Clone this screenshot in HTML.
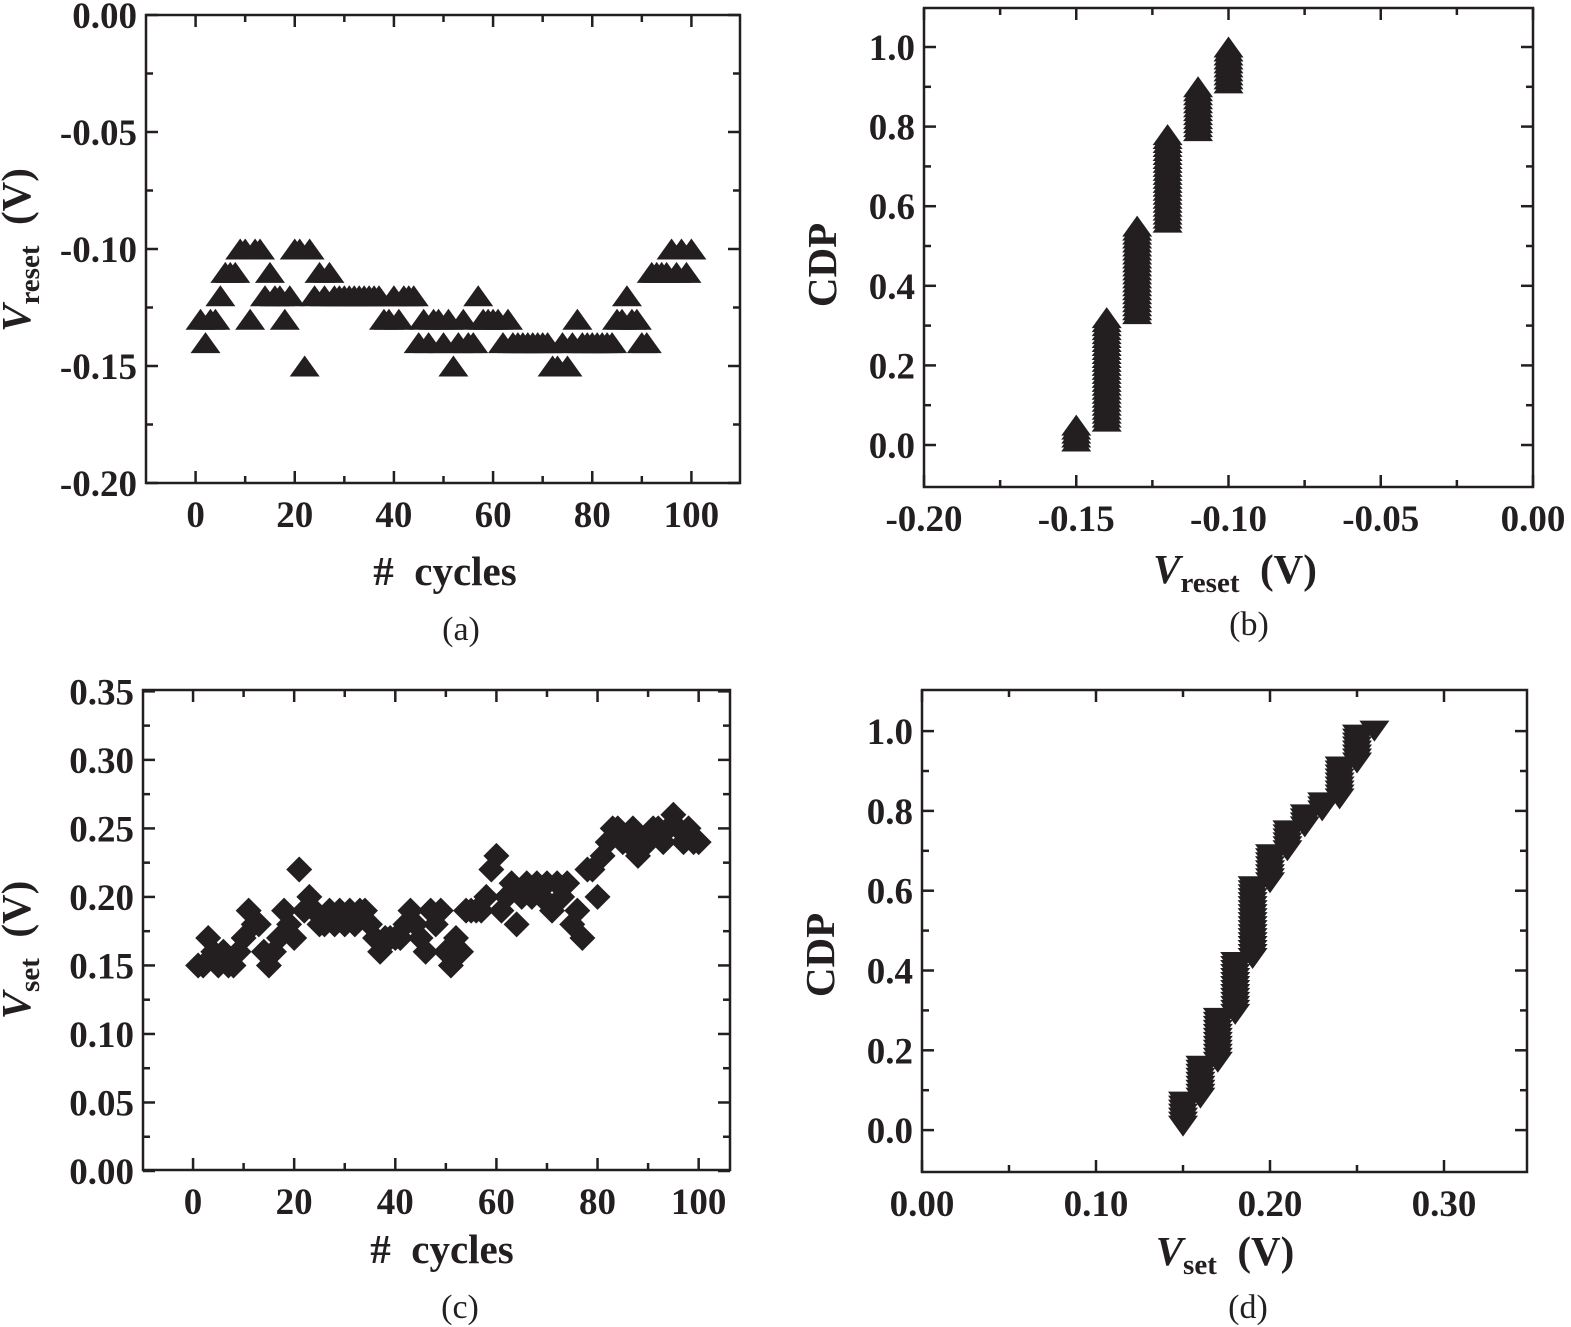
<!DOCTYPE html>
<html><head><meta charset="utf-8"><style>
body{margin:0;background:#fff}
svg{display:block}
text{font-family:"Liberation Serif",serif;fill:#231f20}
.tk{font-size:37px;font-weight:bold}
.ttl{font-size:41px;font-weight:bold}
.cap{font-size:34px}
</style></head><body>
<svg id="s" width="1571" height="1327" viewBox="0 0 1571 1327" xmlns="http://www.w3.org/2000/svg"></svg>
<script>
const cyclesA=[...Array(100)].map((_,i)=>i+1);
const vresetA=[-.13,-.14,-.13,-.13,-.12,-.11,-.11,-.11,-.10,-.10,
-.13,-.10,-.10,-.12,-.11,-.12,-.12,-.13,-.12,-.10,
-.10,-.15,-.10,-.12,-.11,-.12,-.11,-.12,-.12,-.12,
-.12,-.12,-.12,-.12,-.12,-.12,-.12,-.13,-.13,-.12,
-.13,-.12,-.12,-.12,-.14,-.13,-.14,-.13,-.13,-.14,
-.13,-.15,-.14,-.13,-.14,-.14,-.12,-.13,-.13,-.13,
-.13,-.14,-.13,-.14,-.14,-.14,-.14,-.14,-.14,-.14,
-.14,-.15,-.15,-.14,-.15,-.14,-.13,-.14,-.14,-.14,
-.14,-.14,-.14,-.14,-.13,-.13,-.12,-.13,-.13,-.14,
-.14,-.11,-.11,-.11,-.11,-.10,-.11,-.10,-.11,-.10];
const vsetC=[.15,.15,.17,.16,.15,.16,.15,.15,.16,.17,
.19,.18,.18,.16,.15,.16,.17,.19,.18,.17,
.22,.19,.20,.19,.18,.18,.19,.18,.19,.18,
.19,.18,.19,.19,.18,.17,.16,.17,.17,.17,
.17,.18,.19,.18,.17,.16,.19,.18,.19,.16,
.15,.17,.16,.19,.19,.19,.19,.20,.22,.23,
.19,.20,.21,.18,.20,.21,.20,.21,.20,.21,
.19,.21,.20,.21,.18,.19,.17,.22,.22,.20,
.23,.24,.25,.25,.24,.24,.25,.23,.24,.24,
.25,.25,.24,.25,.26,.25,.24,.25,.24,.24];
const ticksA_x=[0,20,40,60,80,100], ticksA_y=[0,-0.05,-0.10,-0.15,-0.20];
const ticksB_x=[-0.20,-0.15,-0.10,-0.05,0.00], ticksCDP=[0,0.2,0.4,0.6,0.8,1.0];
const ticksC_y=[0,0.05,0.10,0.15,0.20,0.25,0.30,0.35], ticksD_x=[0,0.10,0.20,0.30];

const S=document.getElementById('s');const NS='http://www.w3.org/2000/svg';
function el(t,a,p){const e=document.createElementNS(NS,t);for(const k in a)e.setAttribute(k,a[k]);(p||S).appendChild(e);return e;}
function panel(name,box,xr,yr,xt,yt,fx,fy){
 const g=el('g',{});
 
 
 const [x0,y0,x1,y1]=box;
 const sx=v=>x0+(v-xr[0])/(xr[1]-xr[0])*(x1-x0);
 const sy=v=>y1-(v-yr[0])/(yr[1]-yr[0])*(y1-y0);
 el('rect',{x:x0,y:y0,width:x1-x0,height:y1-y0,fill:'none',stroke:'#231f20','stroke-width':2.5},g);
 const tl=12,ml=7;
 xt.forEach((v,i)=>{const x=sx(v);el('line',{x1:x,x2:x,y1:y1,y2:y1-tl,stroke:'#231f20','stroke-width':2.5},g);el('line',{x1:x,x2:x,y1:y0,y2:y0+tl,stroke:'#231f20','stroke-width':2.5},g);
  const t=el('text',{x:x,y:y1+44,'text-anchor':'middle',class:'tk'},g);t.textContent=fx(v);
  if(i<xt.length-1){const m=sx((v+xt[i+1])/2);el('line',{x1:m,x2:m,y1:y1,y2:y1-ml,stroke:'#231f20','stroke-width':2.5},g);el('line',{x1:m,x2:m,y1:y0,y2:y0+ml,stroke:'#231f20','stroke-width':2.5},g);}});
 yt.forEach((v,i)=>{const y=sy(v);el('line',{x1:x0,x2:x0+tl,y1:y,y2:y,stroke:'#231f20','stroke-width':2.5},g);el('line',{x1:x1,x2:x1-tl,y1:y,y2:y,stroke:'#231f20','stroke-width':2.5},g);
  const t=el('text',{x:x0-9,y:y+13,'text-anchor':'end',class:'tk'},g);t.textContent=fy(v);
  if(i<yt.length-1){const m=sy((v+yt[i+1])/2);el('line',{x1:x0,x2:x0+ml,y1:m,y2:m,stroke:'#231f20','stroke-width':2.5},g);el('line',{x1:x1,x2:x1-ml,y1:m,y2:m,stroke:'#231f20','stroke-width':2.5},g);}});
 return {g,sx,sy};
}
function tri(g,x,y,down){const h=21,w=15;const p=down?`${x-w},${y-h/2} ${x+w},${y-h/2} ${x},${y+h/2}`:`${x-w},${y+h/2} ${x+w},${y+h/2} ${x},${y-h/2}`;const e=el('polygon',{points:p,fill:'#231f20'},g);}
function dia(g,x,y){const r=13;const e=el('polygon',{points:`${x},${y-r} ${x+r},${y} ${x},${y+r} ${x-r},${y}`,fill:'#231f20'},g);}
function txt(x,y,s,cls,name,rot){const t=el('text',{x:x,y:y,'text-anchor':'middle',class:cls});if(rot)t.setAttribute('transform',`rotate(-90 ${x} ${y})`);t.innerHTML=s;}
const f2=v=>v.toFixed(2), f1=v=>v.toFixed(1), f0=v=>String(v);
// (a)
let A=panel('panel-a',[146,15,740,483],[-10,109.8],[-0.2,0],ticksA_x,ticksA_y,f0,f2);
cyclesA.forEach((c,i)=>tri(A.g,A.sx(c),A.sy(vresetA[i]),false));
// (b)
let B=panel('panel-b',[924,8,1533,487],[-0.2,0],[-0.1055,1.098],ticksB_x,ticksCDP,f2,f1);
const sortedA=[...vresetA].sort((a,b)=>a-b);
sortedA.forEach((v,i)=>tri(B.g,B.sx(v),B.sy((i+1)/sortedA.length),false));
// (c)
let C=panel('panel-c',[143,690,730,1170],[-9.9,106.2],[0.00073,0.351],ticksA_x,ticksC_y,f0,f2);
cyclesA.forEach((c,i)=>dia(C.g,C.sx(c),C.sy(vsetC[i])));
// (d)
let D=panel('panel-d',[922,690,1527,1172],[0,0.3477],[-0.105,1.103],ticksD_x,ticksCDP,f2,f1);
const sortedC=[...vsetC].sort((a,b)=>a-b);
sortedC.forEach((v,i)=>tri(D.g,D.sx(v),D.sy((i+1)/sortedC.length),true));
// titles
txt(445,585,'#&#160;&#160;cycles','ttl','x-axis-title-a');
txt(30,250,'<tspan font-style="italic">V</tspan><tspan font-size="29" dy="9">reset</tspan><tspan dy="-9">&#160;&#160;(V)</tspan>','ttl','y-axis-title-a',true);
txt(1235,583,'<tspan font-style="italic">V</tspan><tspan font-size="29" dy="9">reset</tspan><tspan dy="-9">&#160;&#160;(V)</tspan>','ttl','x-axis-title-b');
txt(836,265,'CDP','ttl','y-axis-title-b',true);
txt(442,1263,'#&#160;&#160;cycles','ttl','x-axis-title-c');
txt(30,950,'<tspan font-style="italic">V</tspan><tspan font-size="29" dy="9">set</tspan><tspan dy="-9">&#160;&#160;(V)</tspan>','ttl','y-axis-title-c',true);
txt(1225,1265,'<tspan font-style="italic">V</tspan><tspan font-size="29" dy="9">set</tspan><tspan dy="-9">&#160;&#160;(V)</tspan>','ttl','x-axis-title-d');
txt(834,955,'CDP','ttl','y-axis-title-d',true);
txt(461,640,'(a)','cap','caption-a');txt(1249,635,'(b)','cap','caption-b');
txt(460,1318,'(c)','cap','caption-c');txt(1248,1318,'(d)','cap','caption-d');
</script></body></html>
